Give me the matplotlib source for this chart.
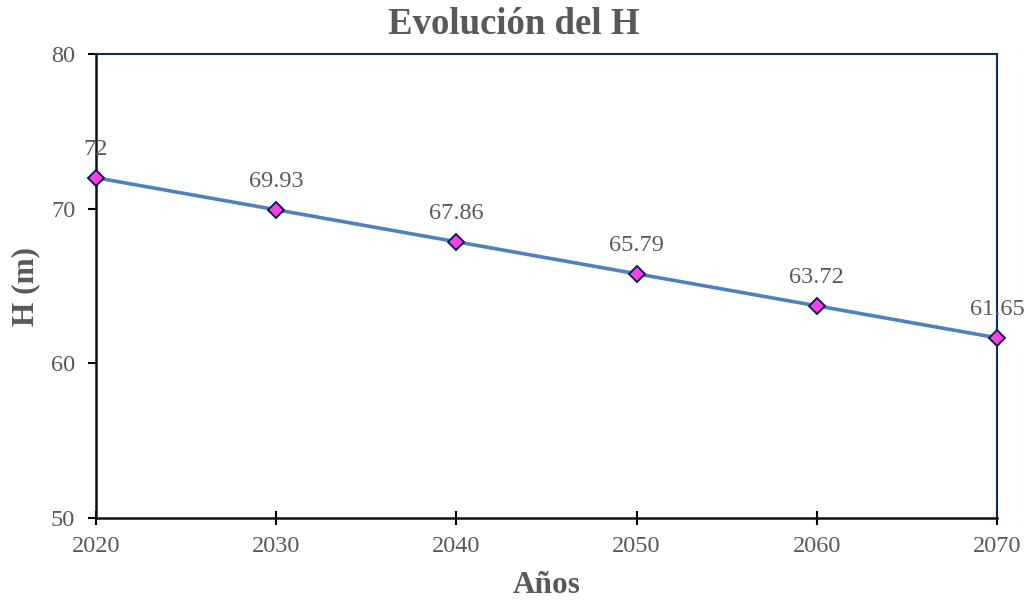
import matplotlib
matplotlib.use("Agg")
import matplotlib.pyplot as plt

years = [2020, 2030, 2040, 2050, 2060, 2070]
h_values = [72, 69.93, 67.86, 65.79, 63.72, 61.65]
labels = ["72", "69.93", "67.86", "65.79", "63.72", "61.65"]
xticks = [2020, 2030, 2040, 2050, 2060, 2070]
yticks = [50, 60, 70, 80]

plt.rcParams['font.family'] = ['Liberation Serif', 'DejaVu Serif']
gray = '#595959'

fig = plt.figure(figsize=(10.25, 6), dpi=100)
ax = fig.add_axes([96/1025, 1-518/600, (997-96)/1025, (518-54)/600])

ax.plot(years, h_values, color='#4F81BD', lw=2.6, marker='D', markersize=8.5,
        markerfacecolor='#FF40E0', markeredgecolor='#0A1F5C', markeredgewidth=1.4,
        zorder=3, clip_on=False)
for x, y, t in zip(years, h_values, labels):
    ax.annotate(t, (x, y), xytext=(0, 13), textcoords='offset points',
                ha='center', va='bottom', fontsize=17.5, color=gray)

ax.set_xlim(2020, 2070)
ax.set_ylim(50, 80)
ax.set_xticks(xticks)
ax.set_yticks(yticks)
ax.tick_params(axis='x', direction='inout', length=10, width=1.5, labelsize=17.5,
               labelcolor=gray, pad=8)
ax.tick_params(axis='y', direction='out', length=6, width=1.5, labelsize=17.5,
               labelcolor=gray, pad=9)

for s in ['left', 'bottom']:
    ax.spines[s].set_color('#111111')
    ax.spines[s].set_linewidth(1.8)
for s in ['top', 'right']:
    ax.spines[s].set_color('#0A2A6E')
    ax.spines[s].set_linewidth(1.5)

fig.text(514/1025, 1-24/600, 'Evolución del H', fontsize=26.5, fontweight='bold',
         color=gray, ha='center', va='center')
ax.set_xlabel('Años', fontsize=22.5, fontweight='bold', color=gray, labelpad=10)
ax.set_ylabel('H (m)', fontsize=22.5, fontweight='bold', color=gray, labelpad=8)

fig.savefig('out.png', dpi=100)
